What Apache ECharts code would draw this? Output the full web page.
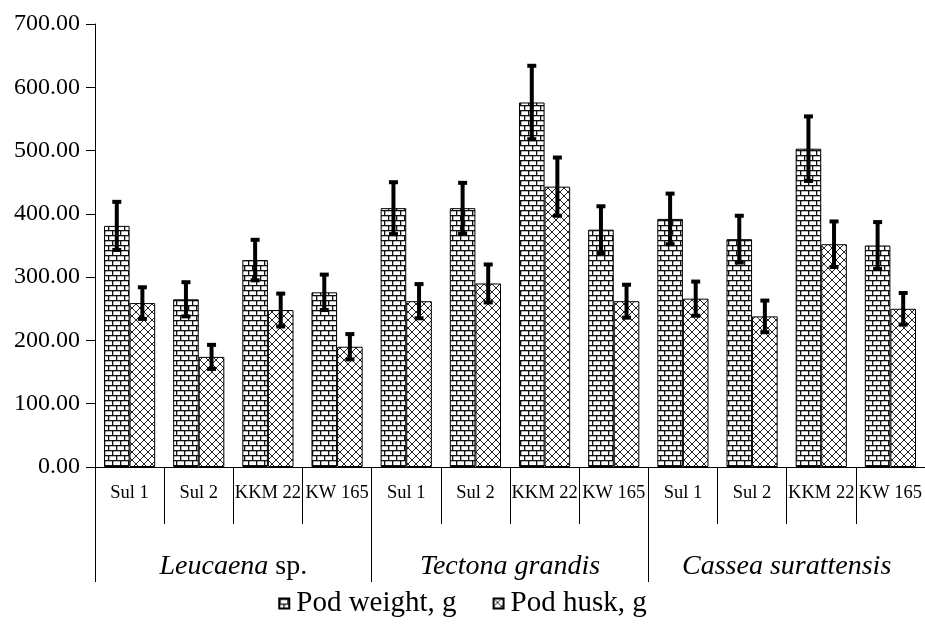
<!DOCTYPE html>
<html>
<head>
<meta charset="utf-8">
<script src="https://cdn.jsdelivr.net/npm/echarts@6/dist/echarts.min.js"></script>
<style>html,body{margin:0;padding:0;background:#fff;}#c{width:925px;height:631px;}</style>
</head>
<body>
<div id="c"></div>
<script>
var categories = ['Sul 1','Sul 2','KKM 22','KW 165','Sul 1','Sul 2','KKM 22','KW 165','Sul 1','Sul 2','KKM 22','KW 165'];
var groups = ['Leucaena sp.','Tectona grandis','Cassea surattensis'];
var podWeight    = [381, 265, 327, 276, 409, 409, 576, 375, 392, 360, 503, 350];
var podWeightErr = [38, 27, 32, 28, 41, 40, 58, 37, 40, 37, 51, 37];
var podHusk      = [259, 174, 248, 190, 262, 290, 443, 262, 266, 238, 352, 250];
var podHuskErr   = [25, 19, 26, 20, 27, 30, 46, 26, 27, 25, 36, 25];
var yTicks = [0,100,200,300,400,500,600,700];

function brickPattern(){
  var c = document.createElement('canvas'); c.width = 16; c.height = 10;
  var g = c.getContext('2d');
  g.fillStyle = '#fff'; g.fillRect(0,0,16,10);
  g.fillStyle = '#111';
  g.fillRect(0,0,16,1.3); g.fillRect(0,5,16,1.3);
  g.fillRect(0,0,1.3,5); g.fillRect(8,0,1.3,5);
  g.fillRect(4,5,1.3,5); g.fillRect(12,5,1.3,5);
  return c;
}
function crossPattern(){
  var c = document.createElement('canvas'); c.width = 8; c.height = 8;
  var g = c.getContext('2d');
  g.fillStyle = '#fff'; g.fillRect(0,0,8,8);
  g.strokeStyle = '#222'; g.lineWidth = 1;
  g.beginPath();
  g.moveTo(-1,-1); g.lineTo(9,9);
  g.moveTo(9,-1); g.lineTo(-1,9);
  g.stroke();
  return c;
}
var brick = {image: brickPattern(), repeat: 'repeat'};
var cross = {image: crossPattern(), repeat: 'repeat'};
var GAP = 0.26;
var FONT = 'Liberation Serif';

function makeErr(values, errs, side){
  return {
    type: 'custom', xAxisIndex: 0, yAxisIndex: 0, z: 10, silent: true,
    data: categories.map(function(c, i){ return [i, values[i]-errs[i], values[i]+errs[i]]; }),
    encode: {x: 0, y: [1, 2]},
    renderItem: function(params, api){
      var idx = api.value(0);
      var lo = api.coord([idx, api.value(1)]);
      var hi = api.coord([idx, api.value(2)]);
      var band = api.size([1, 0])[0];
      var bw = band * (1 - GAP) / 2;
      var x = lo[0] + side * bw / 2;
      var cap = 4.5;
      var st = {stroke: '#000', lineWidth: 4};
      return {type: 'group', children: [
        {type: 'line', shape: {x1: x, y1: hi[1], x2: x, y2: lo[1]}, style: st},
        {type: 'line', shape: {x1: x-cap, y1: hi[1], x2: x+cap, y2: hi[1]}, style: st},
        {type: 'line', shape: {x1: x-cap, y1: lo[1], x2: x+cap, y2: lo[1]}, style: st}
      ]};
    }
  };
}

var chart = echarts.init(document.getElementById('c'), null, {renderer: 'canvas'});
chart.setOption({
  animation: false,
  backgroundColor: '#fff',
  textStyle: {fontFamily: FONT, color: '#000'},
  grid: {left: 95, right: 0, top: 24, bottom: 164, containLabel: false},
  legend: {
    data: ['Pod weight, g', 'Pod husk, g'],
    left: 'center', top: 584,
    icon: 'rect', itemWidth: 10, itemHeight: 10, itemGap: 36,
    textStyle: {fontFamily: FONT, fontSize: 29, color: '#000', padding: [0,0,0,2]}
  },
  xAxis: [
    {
      type: 'category', data: categories, position: 'bottom',
      axisLine: {show: true, lineStyle: {color: '#000', width: 1}},
      axisTick: {show: true, length: 57, lineStyle: {color: '#000'}},
      axisLabel: {fontFamily: FONT, fontSize: 18.5, color: '#000', margin: 17, interval: 0}
    },
    {
      type: 'category', data: groups, position: 'bottom',
      axisLine: {show: false},
      axisTick: {show: true, length: 115, lineStyle: {color: '#000'}},
      axisLabel: {
        fontFamily: FONT, fontSize: 28, color: '#000', margin: 86, interval: 0,
        formatter: function(v){
          if (v === 'Leucaena sp.') return '{i|Leucaena} {n|sp.}';
          return '{i|' + v + '}';
        },
        rich: {
          i: {fontFamily: FONT, fontSize: 28, fontStyle: 'italic', color: '#000'},
          n: {fontFamily: FONT, fontSize: 28, color: '#000'}
        }
      }
    }
  ],
  yAxis: {
    type: 'value', min: 0, max: 700, interval: 100,
    axisLine: {show: true, lineStyle: {color: '#000', width: 1}},
    axisTick: {show: true, length: 9, lineStyle: {color: '#000'}},
    splitLine: {show: false},
    axisLabel: {fontFamily: FONT, fontSize: 24, color: '#000', margin: 15,
      formatter: function(v){ return v.toFixed(2); }}
  },
  series: [
    {name: 'Pod weight, g', type: 'bar', data: podWeight, barGap: '0%', barCategoryGap: (GAP*100) + '%',
     itemStyle: {color: brick, borderColor: '#000', borderWidth: 1}},
    {name: 'Pod husk, g', type: 'bar', data: podHusk, barGap: '0%', barCategoryGap: (GAP*100) + '%',
     itemStyle: {color: cross, borderColor: '#000', borderWidth: 1}},
    makeErr(podWeight, podWeightErr, -1),
    makeErr(podHusk, podHuskErr, 1)
  ]
});
</script>
</body>
</html>
